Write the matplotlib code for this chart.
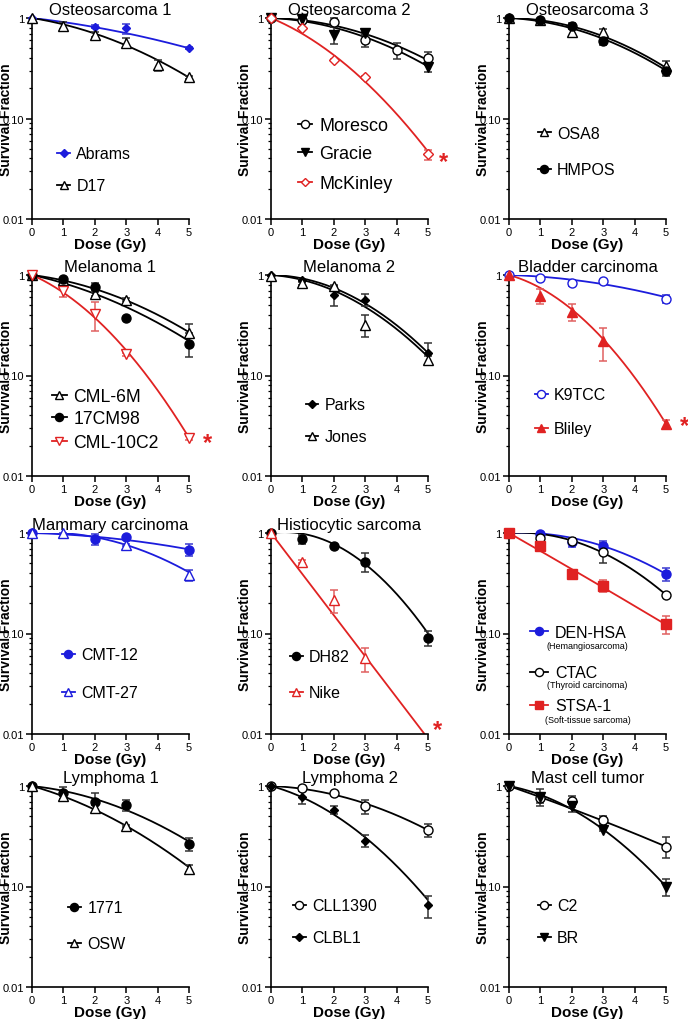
import numpy as np
import matplotlib
matplotlib.use('Agg')
import matplotlib.pyplot as plt
from matplotlib.lines import Line2D
from matplotlib.legend import Legend
from matplotlib.ticker import FixedLocator, FixedFormatter, LogLocator, NullFormatter

plt.rcParams['font.family'] = ['Liberation Sans', 'DejaVu Sans']

# ---------------- data ----------------
titles = ['Osteosarcoma 1', 'Osteosarcoma 2', 'Osteosarcoma 3',
          'Melanoma 1', 'Melanoma 2', 'Bladder carcinoma',
          'Mammary carcinoma', 'Histiocytic sarcoma', '',
          'Lymphoma 1', 'Lymphoma 2', 'Mast cell tumor']

x_ticks = [0, 1, 2, 3, 4, 5]
y_ticks = [0.01, 0.1, 1]
y_tick_labels = ['0.01', '0.10', '1']

# panel 1
abrams_dose = [0, 2, 3, 5];          abrams_sf = [1.0, 0.82, 0.79, 0.50];         abrams_err = [0, 0.03, 0.09, 0.01];      abrams_fit = (0.082, 0.0113)
d17_dose = [0, 1, 2, 3, 4, 5];       d17_sf = [1.0, 0.84, 0.685, 0.57, 0.34, 0.256]; d17_err = [0, 0.07, 0.04, 0.06, 0.045, 0.01]; d17_fit = (0.115, 0.0315)
# panel 2
moresco_dose = [0, 1, 2, 3, 4, 5];   moresco_sf = [1.0, 0.96, 0.906, 0.61, 0.48, 0.40]; moresco_err = [0, 0.02, 0.09, 0.09, 0.085, 0.06]; moresco_fit = (0.0136, 0.036)
gracie_dose = [0, 1, 2, 3, 5];       gracie_sf = [1.0, 0.98, 0.68, 0.71, 0.326];   gracie_err = [0, 0.02, 0.13, 0.04, 0.035];  gracie_fit = (0.033, 0.0378)
mckinley_dose = [0, 1, 2, 3, 5];     mckinley_sf = [1.0, 0.80, 0.385, 0.256, 0.044]; mckinley_err = [0, 0.01, 0.01, 0.01, 0.005]; mckinley_fit = (0.2995, 0.0625)
# panel 3
osa8_dose = [0, 1, 2, 3, 5];         osa8_sf = [1.0, 0.95, 0.72, 0.72, 0.33];      osa8_err = [0, 0.02, 0.06, 0.05, 0.047];   osa8_fit = (0.0073, 0.0441)
hmpos_dose = [0, 1, 2, 3, 5];        hmpos_sf = [1.0, 0.95, 0.84, 0.59, 0.296];    hmpos_err = [0, 0.02, 0.05, 0.05, 0.03];   hmpos_fit = (0.037, 0.0407)
# panel 4
cml6m_dose = [0, 1, 2, 3, 5];        cml6m_sf = [1.0, 0.90, 0.645, 0.57, 0.265];   cml6m_err = [0, 0.02, 0.03, 0.02, 0.06];   cml6m_fit = (0.091, 0.0342)
cm98_dose = [0, 1, 2, 3, 5];         cm98_sf = [1.0, 0.905, 0.765, 0.377, 0.207];  cm98_err = [0, 0.02, 0.06, 0.0, 0.055];   cm98_fit = (0.157, 0.0291)
cml10c2_dose = [0, 1, 2, 3, 5];      cml10c2_sf = [1.0, 0.70, 0.41, 0.162, 0.024]; cml10c2_err = [0, 0.09, 0.13, 0.005, 0.001]; cml10c2_fit = (0.319, 0.0853)
# panel 5
parks_dose = [0, 1, 2, 3, 5];        parks_sf = [1.0, 0.89, 0.63, 0.57, 0.169];    parks_err = [0, 0.03, 0.14, 0.08, 0.04];   parks_fit = (0.0098, 0.0694)
jones_dose = [0, 1, 2, 3, 5];        jones_sf = [0.97, 0.83, 0.78, 0.32, 0.143];   jones_err = [0, 0.04, 0.02, 0.08, 0.012];  jones_fit = (0.048, 0.0654)
# panel 6
k9tcc_dose = [0, 1, 2, 3, 5];        k9tcc_sf = [1.0, 0.93, 0.83, 0.88, 0.577];    k9tcc_err = [0, 0.02, 0.06, 0.02, 0.05];   k9tcc_fit = (0.022, 0.016)
bliley_dose = [0, 1, 2, 3, 5];       bliley_sf = [1.0, 0.62, 0.43, 0.22, 0.0327];  bliley_err = [0, 0.11, 0.085, 0.08, 0.0035]; bliley_fit = (0.202, 0.096)
# panel 7
cmt12_dose = [0, 2, 3, 5];           cmt12_sf = [1.0, 0.87, 0.905, 0.68];          cmt12_err = [0, 0.11, 0.02, 0.09];         cmt12_fit = (0.02, 0.011)
cmt27_dose = [0, 1, 3, 5];           cmt27_sf = [1.0, 0.99, 0.76, 0.38];           cmt27_err = [0, 0.02, 0.02, 0.045];        cmt27_fit = (-0.042, 0.0444)
# panel 8
dh82_dose = [0, 1, 2, 3, 5];         dh82_sf = [1.0, 0.87, 0.75, 0.52, 0.0906];    dh82_err = [0, 0.09, 0.03, 0.11, 0.015];   dh82_fit = (-0.095, 0.111)
nike_dose = [0, 1, 2, 3];            nike_sf = [1.0, 0.52, 0.214, 0.0566];         nike_err = [0, 0.02, 0.055, 0.015];        nike_fit = (0.942, 0.0)
# panel 9
denhsa_dose = [0, 1, 2, 3, 5];       denhsa_sf = [1.0, 0.977, 0.81, 0.75, 0.39];   denhsa_err = [0, 0.02, 0.09, 0.09, 0.06];  denhsa_fit = (-0.032, 0.044)
ctac_dose = [0, 1, 2, 3, 5];         ctac_sf = [1.0, 0.885, 0.84, 0.65, 0.243];    ctac_err = [0, 0.02, 0.06, 0.15, 0.01];    ctac_fit = (-0.0445, 0.0655)
stsa1_dose = [0, 1, 2, 3, 5];        stsa1_sf = [1.0, 0.738, 0.387, 0.30, 0.124];  stsa1_err = [0, 0.07, 0.02, 0.04, 0.025];  stsa1_fit = (0.41, 0.002)
# panel 10
l1771_dose = [0, 1, 2, 3, 5];        l1771_sf = [1.0, 0.86, 0.70, 0.65, 0.264];    l1771_err = [0, 0.11, 0.16, 0.08, 0.04];   l1771_fit = (0.0766, 0.0356)
osw_dose = [0, 1, 2, 3, 5];          osw_sf = [1.0, 0.80, 0.60, 0.40, 0.151];      osw_err = [0, 0.05, 0.05, 0.01, 0.011];    osw_fit = (0.204, 0.0337)
# panel 11
cll1390_dose = [0, 1, 2, 3, 5];      cll1390_sf = [1.0, 0.95, 0.86, 0.63, 0.364];  cll1390_err = [0, 0.02, 0.02, 0.10, 0.05]; cll1390_fit = (0.030, 0.0344)
clbl1_dose = [0, 1, 2, 3, 5];        clbl1_sf = [1.0, 0.78, 0.577, 0.285, 0.065];  clbl1_err = [0, 0.12, 0.05, 0.04, 0.016];  clbl1_fit = (0.196, 0.0654)
# panel 12
c2_dose = [0, 1, 2, 3, 5];           c2_sf = [1.0, 0.755, 0.71, 0.46, 0.25];       c2_err = [0, 0.08, 0.09, 0.04, 0.06];      c2_fit = (0.25, 0.0055)
br_dose = [0, 1, 2, 3, 5];           br_sf = [1.0, 0.78, 0.63, 0.366, 0.10];       br_err = [0, 0.15, 0.08, 0.01, 0.02];      br_fit = (0.1376, 0.0646)

# ---------------- styles ----------------
BLUE = '#1c1cdc'
RED = '#e02222'
BLACK = '#000000'
ERR = {BLUE: '#3a3ad0', RED: '#e06060', BLACK: '#333333'}

def S(name, dose, sf, err, fit, color, marker, filled, ms=6.5):
    return dict(name=name, dose=dose, sf=sf, err=err, fit=fit, color=color,
                marker=marker, filled=filled, ms=ms)

panels = [
    [S('Abrams', abrams_dose, abrams_sf, abrams_err, abrams_fit, BLUE, 'D', True, 4.5),
     S('D17', d17_dose, d17_sf, d17_err, d17_fit, BLACK, '^', False)],
    [S('Moresco', moresco_dose, moresco_sf, moresco_err, moresco_fit, BLACK, 'o', False),
     S('Gracie', gracie_dose, gracie_sf, gracie_err, gracie_fit, BLACK, 'v', True),
     S('McKinley', mckinley_dose, mckinley_sf, mckinley_err, mckinley_fit, RED, 'D', False, 5.0)],
    [S('OSA8', osa8_dose, osa8_sf, osa8_err, osa8_fit, BLACK, '^', False),
     S('HMPOS', hmpos_dose, hmpos_sf, hmpos_err, hmpos_fit, BLACK, 'o', True)],
    [S('CML-6M', cml6m_dose, cml6m_sf, cml6m_err, cml6m_fit, BLACK, '^', False),
     S('17CM98', cm98_dose, cm98_sf, cm98_err, cm98_fit, BLACK, 'o', True),
     S('CML-10C2', cml10c2_dose, cml10c2_sf, cml10c2_err, cml10c2_fit, RED, 'v', False)],
    [S('Parks', parks_dose, parks_sf, parks_err, parks_fit, BLACK, 'D', True, 4.5),
     S('Jones', jones_dose, jones_sf, jones_err, jones_fit, BLACK, '^', False)],
    [S('K9TCC', k9tcc_dose, k9tcc_sf, k9tcc_err, k9tcc_fit, BLUE, 'o', False),
     S('Bliley', bliley_dose, bliley_sf, bliley_err, bliley_fit, RED, '^', True)],
    [S('CMT-12', cmt12_dose, cmt12_sf, cmt12_err, cmt12_fit, BLUE, 'o', True),
     S('CMT-27', cmt27_dose, cmt27_sf, cmt27_err, cmt27_fit, BLUE, '^', False)],
    [S('DH82', dh82_dose, dh82_sf, dh82_err, dh82_fit, BLACK, 'o', True),
     S('Nike', nike_dose, nike_sf, nike_err, nike_fit, RED, '^', False)],
    [S('DEN-HSA', denhsa_dose, denhsa_sf, denhsa_err, denhsa_fit, BLUE, 'o', True),
     S('CTAC', ctac_dose, ctac_sf, ctac_err, ctac_fit, BLACK, 'o', False),
     S('STSA-1', stsa1_dose, stsa1_sf, stsa1_err, stsa1_fit, RED, 's', True)],
    [S('1771', l1771_dose, l1771_sf, l1771_err, l1771_fit, BLACK, 'o', True),
     S('OSW', osw_dose, osw_sf, osw_err, osw_fit, BLACK, '^', False)],
    [S('CLL1390', cll1390_dose, cll1390_sf, cll1390_err, cll1390_fit, BLACK, 'o', False),
     S('CLBL1', clbl1_dose, clbl1_sf, clbl1_err, clbl1_fit, BLACK, 'D', True, 4.5)],
    [S('C2', c2_dose, c2_sf, c2_err, c2_fit, BLACK, 'o', False),
     S('BR', br_dose, br_sf, br_err, br_fit, BLACK, 'v', True)],
]

# legend layout (axes fractions): x of handle, y for each entry, handle length
legend_x = [0.16, 0.17, 0.185, 0.13, 0.22, 0.165, 0.19, 0.12, 0.135, 0.23, 0.14, 0.185]
legend_y = [[0.325, 0.165], [0.465, 0.325, 0.175], [0.425, 0.245],
            [0.395, 0.285, 0.165], [0.355, 0.195], [0.405, 0.235],
            [0.395, 0.205], [0.385, 0.205], [0.505, 0.305, 0.14],
            [0.395, 0.215], [0.405, 0.245], [0.405, 0.245]]
legend_fs = [11.5, 13, 11.5, 12.7, 11.5, 11.5, 11.5, 11.5, 11.5, 11.5, 11.5, 11.5]
legend_hl = [0.8] * 12
legend_hl[8] = 1.1
legend_tp = [0.4] * 12
legend_tp[8] = 0.45

subtitles = ['(Hemangiosarcoma)', '(Thyroid carcinoma)', '(Soft-tissue sarcoma)']
subtitle_y = [0.44, 0.245, 0.07]

# significance asterisks: panel -> (x, y)
stars = {1: (5.5, 0.037), 3: (5.6, 0.0215), 5: (5.6, 0.032), 7: (5.3, 0.011)}

# ---------------- figure ----------------
W, H = 688, 1020
fig = plt.figure(figsize=(W / 100, H / 100), dpi=100)
col_left = [32, 271, 509]
row_bottom = [220, 477, 735, 988]
ax_w, ax_h = 157, 201

xs = np.linspace(0, 5, 300)

for i, series in enumerate(panels):
    r, c = divmod(i, 3)
    ax = fig.add_axes([col_left[c] / W, 1 - row_bottom[r] / H, ax_w / W, ax_h / H])
    ax.set_yscale('log')
    ax.set_xlim(0, 5)
    ax.set_ylim(0.01, 1)
    for sp in ['top', 'right']:
        ax.spines[sp].set_visible(False)
    for sp in ['left', 'bottom']:
        ax.spines[sp].set_linewidth(1.2)
    ax.set_xticks(x_ticks)
    ax.set_xticklabels([str(t) for t in x_ticks])
    ax.yaxis.set_major_locator(FixedLocator(y_ticks))
    ax.yaxis.set_major_formatter(FixedFormatter(y_tick_labels))
    ax.yaxis.set_minor_locator(LogLocator(base=10, subs=np.arange(2, 10)))
    ax.yaxis.set_minor_formatter(NullFormatter())
    ax.tick_params(axis='both', which='major', labelsize=8, length=4, width=1.1, pad=1.5)
    ax.tick_params(axis='y', which='minor', length=2.5, width=0.9)
    ax.set_xlabel('Dose (Gy)', fontsize=11, fontweight='bold', labelpad=0)
    ax.set_ylabel('Survival Fraction', fontsize=10, fontweight='bold')
    ax.yaxis.set_label_coords(-0.118, 0.5)
    if titles[i]:
        ax.set_title(titles[i], fontsize=12, pad=3)

    handles = []
    for s in series:
        col = s['color']
        a, b = s['fit']
        ax.plot(xs, np.exp(-(a * xs + b * xs ** 2)), color=col, lw=1.3, zorder=2)
        d = np.asarray(s['dose'], float)
        y = np.asarray(s['sf'], float)
        e = np.asarray(s['err'], float)
        lo = np.minimum(e, y * 0.95)
        eb = ax.errorbar(d, y, yerr=[lo, e], fmt='none', ecolor=ERR[col], elinewidth=1.1,
                         capsize=3, capthick=1.1, zorder=3)
        for art in eb.lines[1] + eb.lines[2]:
            art.set_clip_on(False)
        mfc = col if s['filled'] else 'white'
        ax.plot(d, y, ls='none', marker=s['marker'], ms=s['ms'], mfc=mfc, mec=col,
                mew=1.0, zorder=4, clip_on=False)
        handles.append(Line2D([], [], color=col, lw=1.3, marker=s['marker'],
                              ms=s['ms'] * 0.9, mfc=mfc, mec=col, mew=1.0))

    for k, (h, s) in enumerate(zip(handles, series)):
        leg = Legend(ax, [h], [s['name']], loc='center left',
                     bbox_to_anchor=(legend_x[i], legend_y[i][k]),
                     bbox_transform=ax.transAxes, frameon=False, borderpad=0,
                     borderaxespad=0, handlelength=legend_hl[i],
                     handletextpad=legend_tp[i], fontsize=legend_fs[i])
        ax.add_artist(leg)

    if i == 8:
        for t, ty in zip(subtitles, subtitle_y):
            ax.text(0.50, ty, t, transform=ax.transAxes, ha='center', va='center',
                    fontsize=6.5)

    if i in stars:
        sx, sy = stars[i]
        ax.text(sx, sy, '*', color=RED, fontsize=17, fontweight='bold',
                ha='center', va='center', clip_on=False)

fig.savefig('out.png', dpi=100)
